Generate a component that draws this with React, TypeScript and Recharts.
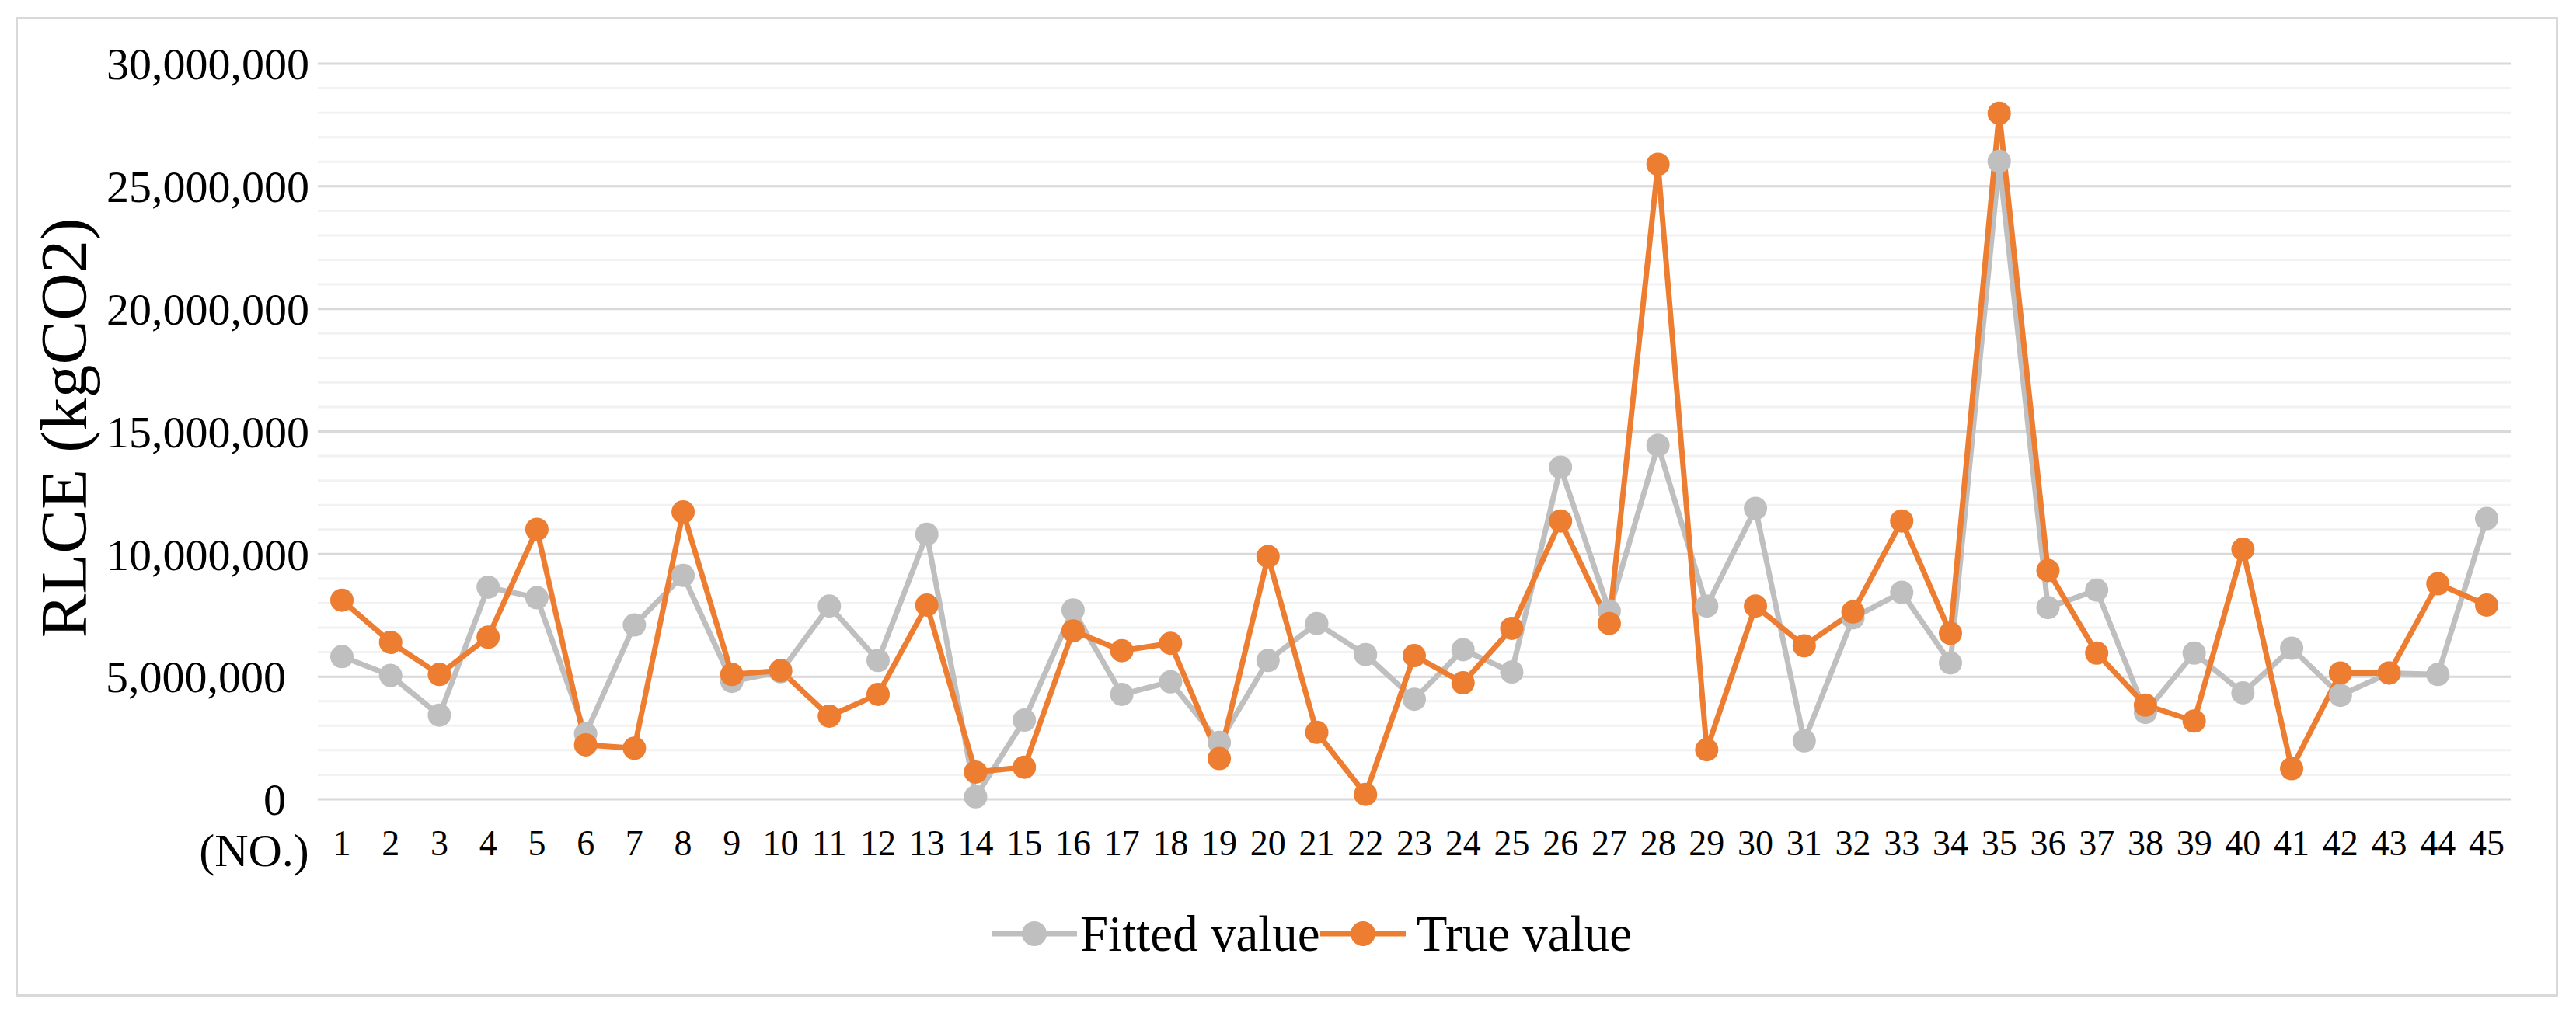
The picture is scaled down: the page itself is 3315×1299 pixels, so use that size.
import React from "react";
import { LineChart, Line, XAxis, YAxis, CartesianGrid, Legend, ReferenceLine } from "recharts";

const categories = [
  1, 2, 3, 4, 5, 6, 7, 8, 9, 10, 11, 12, 13, 14, 15, 16, 17, 18, 19, 20, 21, 22, 23,
  24, 25, 26, 27, 28, 29, 30, 31, 32, 33, 34, 35, 36, 37, 38, 39, 40, 41, 42, 43, 44, 45,
];

const fittedValues = [
  5820000, 5050000, 3430000, 8650000, 8220000, 2670000, 7110000, 9130000, 4810000,
  5200000, 7880000, 5660000, 10810000, 100000, 3230000, 7720000, 4280000, 4790000,
  2320000, 5660000, 7170000, 5900000, 4080000, 6100000, 5190000, 13540000, 7680000,
  14440000, 7880000, 11860000, 2380000, 7400000, 8440000, 5560000, 26020000, 7820000,
  8530000, 3540000, 5960000, 4340000, 6160000, 4240000, 5150000, 5090000, 11450000,
];

const trueValues = [
  8120000, 6400000, 5090000, 6610000, 11010000, 2220000, 2080000, 11720000, 5090000,
  5250000, 3390000, 4280000, 7920000, 1110000, 1310000, 6870000, 6060000, 6360000,
  1660000, 9900000, 2730000, 200000, 5860000, 4750000, 6970000, 11350000, 7170000,
  25900000, 2020000, 7880000, 6260000, 7640000, 11350000, 6770000, 27980000, 9330000,
  5960000, 3840000, 3190000, 10200000, 1250000, 5150000, 5150000, 8790000, 7920000,
];

const yTicks = [0, 5000000, 10000000, 15000000, 20000000, 25000000, 30000000];
const minorTicks = [
  1000000, 2000000, 3000000, 4000000, 6000000, 7000000, 8000000, 9000000,
  11000000, 12000000, 13000000, 14000000, 16000000, 17000000, 18000000, 19000000,
  21000000, 22000000, 23000000, 24000000, 26000000, 27000000, 28000000, 29000000,
];

const FITTED = "#BFBFBF";
const TRUE = "#ED7D31";
const FONT = "'Liberation Serif', 'Times New Roman', serif";

const data = categories.map((no, i) => ({
  no,
  fitted: fittedValues[i],
  actual: trueValues[i],
}));

// short labels (< 10M) sit one digit further left, as in the source
const YTick = (props: any) => {
  const { x, y, payload } = props;
  const v = payload.value as number;
  return (
    <text
      x={v < 10000000 ? x - 30 : x}
      y={y}
      dy="0.35em"
      textAnchor="end"
      fontSize={58}
      fontFamily={FONT}
      fill="#000"
    >
      {v.toLocaleString("en-US")}
    </text>
  );
};

const XTick = (props: any) => {
  const { x, y, payload } = props;
  return (
    <text x={x} y={y} dy="0.71em" textAnchor="middle" fontSize={46} fontFamily={FONT} fill="#000">
      {payload.value}
    </text>
  );
};

const YLabel = () => (
  <text
    x={111}
    y={551}
    transform="rotate(-90 111 551)"
    textAnchor="middle"
    fontSize={85}
    fontFamily={FONT}
    fill="#000"
  >
    RLCE (kgCO2)
  </text>
);

const XLabel = () => (
  <text x={327} y={1115} textAnchor="middle" fontSize={60} fontFamily={FONT} fill="#000">
    (NO.)
  </text>
);

const LegendIcon = ({ color }: { color: string }) => (
  <svg width={110} height={40}>
    <line x1={0} y1={20} x2={110} y2={20} stroke={color} strokeWidth={7} />
    <circle cx={55} cy={20} r={16} fill={color} />
  </svg>
);

const LegendContent = () => (
  <div
    style={{
      height: 166,
      display: "flex",
      alignItems: "center",
      paddingLeft: 1276,
      fontFamily: FONT,
      fontSize: 65,
      color: "#000",
    }}
  >
    <LegendIcon color={FITTED} />
    <span style={{ marginLeft: 4 }}>Fitted value</span>
    <LegendIcon color={TRUE} />
    <span style={{ marginLeft: 14 }}>True value</span>
  </div>
);

export default function App() {
  return (
    <div style={{ position: "absolute", left: 0, top: 0, width: 3315, height: 1299, background: "#fff" }}>
      <div
        style={{
          position: "absolute",
          left: 20,
          top: 22,
          width: 3272,
          height: 1261,
          border: "3px solid #d9d9d9",
          boxSizing: "border-box",
        }}
      />
      <LineChart
        width={3315}
        height={1299}
        data={data}
        margin={{ top: 82, right: 84, bottom: 14, left: 0 }}
      >
        <CartesianGrid vertical={false} stroke="#d9d9d9" strokeWidth={3} />
        {minorTicks.map((v) => (
          <ReferenceLine key={v} y={v} stroke="#f2f2f2" strokeWidth={3} />
        ))}
        <XAxis
          dataKey="no"
          interval={0}
          axisLine={false}
          tickLine={false}
          tickMargin={33}
          height={90}
          padding={{ left: 31, right: 31 }}
          tick={<XTick />}
          label={<XLabel />}
        />
        <YAxis
          width={409}
          domain={[0, 30000000]}
          ticks={yTicks}
          axisLine={false}
          tickLine={false}
          tickMargin={5}
          tick={<YTick />}
          label={<YLabel />}
        />
        <Legend verticalAlign="bottom" content={<LegendContent />} />
        <Line
          type="linear"
          dataKey="fitted"
          name="Fitted value"
          stroke={FITTED}
          strokeWidth={7}
          dot={{ r: 15, fill: FITTED, stroke: FITTED, strokeWidth: 0 }}
          activeDot={false}
          isAnimationActive={false}
        />
        <Line
          type="linear"
          dataKey="actual"
          name="True value"
          stroke={TRUE}
          strokeWidth={7}
          dot={{ r: 15, fill: TRUE, stroke: TRUE, strokeWidth: 0 }}
          activeDot={false}
          isAnimationActive={false}
        />
      </LineChart>
    </div>
  );
}
